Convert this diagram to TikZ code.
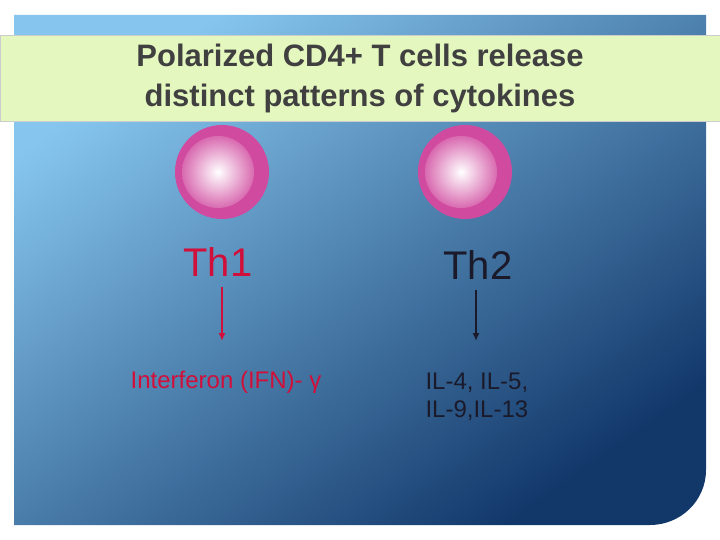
\documentclass[tikz,border=0pt]{standalone}
\usepackage{fontspec}
\setmainfont{Liberation Sans}
\usetikzlibrary{arrows.meta,positioning}
\definecolor{skytop}{HTML}{86C6EE}
\definecolor{navy}{HTML}{12386A}
\definecolor{titlefill}{HTML}{E4F7BE}
\definecolor{cellmag}{HTML}{C82A8E}
\definecolor{thred}{HTML}{D0103A}
\definecolor{thdark}{HTML}{1A1A2A}
\begin{document}
\begin{tikzpicture}[
    x=1pt, y=-1pt,
    cell node/.style={circle,minimum size=94pt,inner sep=0,fill=cellmag!85!white},
    cell core/.style={circle,minimum size=72pt,inner sep=0,
      inner color=white,outer color=cellmag!70!white},
    th label/.style={font=\fontsize{40}{40}\selectfont},
    cyto label/.style={font=\fontsize{24}{28}\selectfont,align=left},
    release/.style={-{Latex[length=8pt,width=7pt]},line width=2pt}]

  \useasboundingbox (0,0) rectangle (720,540);
  \fill[white] (0,0) rectangle (720,540);
  % panel
  \shade[top color=skytop,bottom color=navy,shading angle=35]
    (14,15) -- (706,15) -- (706,470) to[out=270,in=0] (650,525) -- (14,525) -- cycle;
  % title band
  \node[draw=gray!40,fill=titlefill,minimum width=720pt,minimum height=86pt,
    align=center,text=gray!50!black,font=\bfseries\fontsize{31}{40}\selectfont]
    (Title) at (360,78) {Polarized CD4+ T cells release\\distinct patterns of cytokines};

  \node[cell node] (CellTh1) at (222,172) {};
  \node[cell core] at ([shift={(-4,0)}]CellTh1.center) {};
  \node[cell node] (CellTh2) at (465,172) {};
  \node[cell core] at ([shift={(-4,0)}]CellTh2.center) {};

  \node[th label,text=thred] (Th1) at (218,262) {Th1};
  \node[th label,text=thdark] (Th2) at (478,265) {Th2};

  \node[cyto label,text=thred] (IFN) at (226,382) {Interferon (IFN)- γ};
  \node[cyto label,text=thdark,anchor=west] (IL) at (422,397) {IL-4, IL-5,\\IL-9,IL-13};

  \draw[release,thred] (222,287) -- (222,341);
  \draw[release,thdark] (476,290) -- (476,341);
\end{tikzpicture}
\end{document}
